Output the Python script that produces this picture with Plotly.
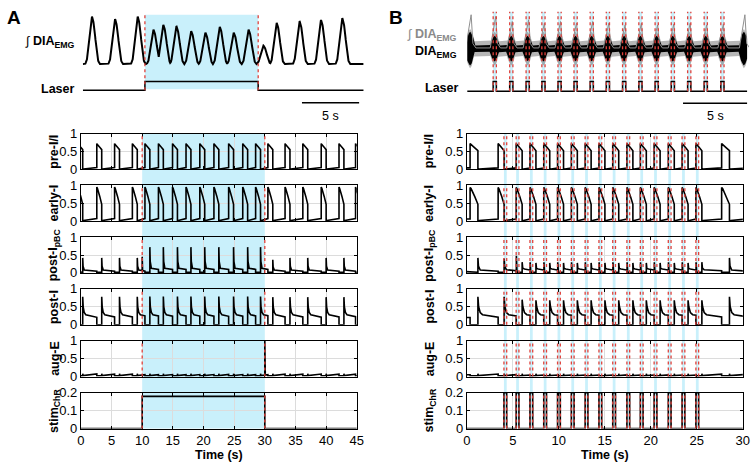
import numpy as np
import plotly.graph_objects as go

W, H = 756, 470
FONT = "Arial, 'Liberation Sans', sans-serif"
CYAN = "#c9f0fb"
RED = "#e0413b"
GRID = "#dcdcdc"

# ================= DATA =================
# ---- Panel A, top: integrated DIA EMG recording (recording time, s) ----
A_emg_t = [0.8, 2.82, 4.8, 6.18, 7.04, 8.19, 9.48, 10.72, 11.98, 13.2, 14.5, 15.8, 16.96, 18.97, 20.84, 22.7]
A_emg_v = [0.98, 0.93, 0.98, 0.71, 0.81, 0.78, 0.68, 0.65, 0.77, 0.65, 0.71, 0.38, 0.85, 0.88, 0.91, 0.95]
A_rec_laser = [5.43, 15.34]
A_rec_end = 24.57

# ---- Panel A, model (0-45 s) ----
A_on = [-0.5, 2.6, 5.5, 8.4, 10.45, 12.65, 14.95, 17.15, 19.4, 21.7, 24.1, 26.4, 28.5,
        30.5, 33.3, 36.2, 39.2, 42.1, 44.8]
A_end = [0.3, 3.4, 6.3, 9.2, 11.25, 13.45, 15.75, 17.95, 20.2, 22.5, 24.9, 27.2, 29.3,
         31.3, 34.1, 37.0, 40.0, 42.9, 45.6]
A_pbc_pk = [0.42, 0.42, 0.42, 0.42, 0.72, 0.72, 0.72, 0.72, 0.72, 0.72, 0.72, 0.72, 0.72,
            0.37, 0.42, 0.42, 0.42, 0.42, 0.42]
A_pbc_plat = [0.05, 0.05, 0.05, 0.05, 0.1, 0.1, 0.1, 0.1, 0.1, 0.1, 0.1, 0.1, 0.1,
              0.05, 0.05, 0.05, 0.05, 0.05, 0.05]
A_postI_pk = [0.78, 0.78, 0.78, 0.78, 0.79, 0.79, 0.79, 0.79, 0.79, 0.79, 0.79, 0.79, 0.79,
              0.77, 0.77, 0.77, 0.77, 0.77, 0.77]
A_pbc_extra_t = [10.0]
A_pbc_extra_v = [0.45]
A_auge_extra_t = [30.0]
A_auge_extra_v = [1.0]
A_stim_t = [0, 10, 30, 45]
A_stim_v = [0, 0.18, 0, 0]
A_laser = [10, 30]

# ---- Panel B, top: DIA EMG recording (recording time, s) ----
B_rec_pulse_on = [2.03, 3.32, 4.60, 5.83, 7.09, 8.34, 9.60, 10.86, 12.13, 13.40, 14.67, 15.93, 17.21, 18.50, 19.80]
B_rec_pulse_w = 0.25
B_rec_spont_t = [0.23, 21.6]
B_rec_int_spont = [1.0, 1.0]
B_rec_int_pulse = [0.95, 0.8, 0.85, 0.75, 0.8, 0.75, 0.8, 0.75, 0.7, 0.75, 0.7, 0.72, 0.75, 0.7, 0.72]
B_rec_end = 21.85

# ---- Panel B, model (0-30 s) ----
B_on = [0.35, 3.4, 5.36, 6.86, 8.36, 9.86, 11.36, 12.86, 14.36, 15.86, 17.4, 18.86, 20.36, 21.9, 23.4, 24.9, 27.7]
B_end = [1.2, 4.05, 6.01, 7.51, 9.01, 10.51, 12.01, 13.51, 15.01, 16.51, 18.05, 19.51, 21.01, 22.55, 24.05, 25.55, 28.55]
B_pbc_pk = [0.42, 0.4, 0.3, 0.28, 0.28, 0.28, 0.28, 0.28, 0.28, 0.28, 0.28, 0.28, 0.28, 0.28, 0.28, 0.3, 0.42]
B_pbc_plat = [0.05, 0.06, 0.08, 0.08, 0.08, 0.08, 0.08, 0.08, 0.08, 0.08, 0.08, 0.08, 0.08, 0.08, 0.08, 0.06, 0.05]
B_postI_pk = [0.78, 0.78, 0.7, 0.68, 0.68, 0.68, 0.68, 0.68, 0.68, 0.68, 0.68, 0.68, 0.68, 0.68, 0.68, 0.68, 0.78]
B_pulse_on = [4.03, 5.36, 6.86, 8.36, 9.86, 11.36, 12.86, 14.36, 15.86, 17.4, 18.86, 20.36, 21.9, 23.4, 24.9]
B_pulse_w = 0.3
B_pulse_amp = 0.2
B_pbc_pulse_v = [0.0, 0.48, 0.3, 0.3, 0.3, 0.3, 0.3, 0.3, 0.3, 0.3, 0.3, 0.3, 0.3, 0.3, 0.3]

ROW_LABELS = ["pre-I/I", "early-I", "post-I<sub>pBC</sub>", "post-I", "aug-E", "stim<sub>ChR</sub>"]

# ================= WAVEFORM BUILDERS =================
def pre_like(on, end, pk, endv, b0, b1, t0, t1):
    t, y = [t0], [b1]
    for k in range(len(on)):
        d = end[k] - on[k]
        t += [on[k], on[k], on[k] + 0.12 * d, on[k] + 0.6 * d, end[k], end[k], end[k] + 0.15]
        y += [b1, pk, pk - 0.03, (pk + endv) / 2 - 0.02, endv, 0.0, b0]
    t.append(t1); y.append(b1)
    return t, y


def post_i(on, end, pk, t0, t1):
    t, y = [t0], [0.2]
    prev = None
    for k in range(len(on)):
        lv = 0.2 if prev is None else max(0.2, 0.28 - 0.04 * (on[k] - (prev + 0.5)))
        t += [on[k], on[k], end[k], end[k], end[k] + 0.08, end[k] + 0.25, end[k] + 0.5]
        y += [lv, 0.0, 0.0, pk[k], 0.5, 0.34, 0.28]
        prev = end[k]
    t.append(t1); y.append(max(0.2, 0.28 - 0.04 * (t1 - prev - 0.5)))
    return t, y


def pbc(on, end, pk, plat, t0, t1):
    t, y = [t0], [0.04]
    pp = 0.04
    for k in range(len(on)):
        t += [on[k], on[k], end[k], end[k], end[k] + 0.06, end[k] + 0.25]
        y += [pp, 0.02, 0.02, pk[k], 0.45 * pk[k], plat[k] + 0.03]
        pp = plat[k]
    t.append(t1); y.append(pp)
    return t, y


def aug_e(on, end, t0, t1):
    t, y = [t0], [0.05]
    prev = None
    for k in range(len(on)):
        lv = 0.05 if prev is None else min(0.075, 0.025 + 0.02 * (on[k] - prev))
        t += [on[k], on[k], end[k], end[k], end[k] + 0.05]
        y += [lv, 0.02, 0.02, 0.08, 0.025]
        prev = end[k]
    t.append(t1); y.append(min(0.075, 0.025 + 0.02 * (t1 - prev)))
    return t, y


def add_spikes(t, y, ts, vs, w=0.07):
    pts = list(zip(t, y))
    for s, v in zip(ts, vs):
        if v <= 0:
            continue
        b = float(np.interp(s, t, y))
        pts += [(s - 0.001, b), (s, v), (s + w, b)]
    pts.sort(key=lambda p: p[0])
    return [p[0] for p in pts], [p[1] for p in pts]


# ================= LAYOUT GEOMETRY =================
ROW_TOP = [130.7, 184.2, 237.7, 291.2, 344.7, 398.5]
ROW_H = 37.0
A_X = (78, 358)
B_X = (469.7, 749.7)


def xd(p0, p1):
    return [p0 / W, p1 / W]


def yd(ptop, pbot):
    return [1 - pbot / H, 1 - ptop / H]


def py(p):
    return 1 - p / H


fig = go.Figure()
layout = dict(width=W, height=H, margin=dict(l=0, r=0, t=0, b=0), autosize=False,
              paper_bgcolor="white", plot_bgcolor="rgba(0,0,0,0)", showlegend=False,
              font=dict(family=FONT, size=12, color="black"))
shapes = []
annotations = []


def vline(xref, x, y0, y1, yref="paper"):
    shapes.append(dict(type="line", xref=xref, yref=yref, x0=x, x1=x, y0=y0, y1=y1,
                       line=dict(color=RED, width=1.3, dash="dot"), layer="above"))


def band(xref, x0, x1, y0, y1):
    shapes.append(dict(type="rect", xref=xref, yref="paper", x0=x0, x1=x1, y0=y0, y1=y1,
                       fillcolor=CYAN, line=dict(width=0), layer="below"))


def line_trace(x, y, xa, ya, color="black", width=1.6, shape="linear"):
    fig.add_trace(go.Scatter(x=x, y=y, xaxis=xa, yaxis=ya, mode="lines",
                             line=dict(color=color, width=width, shape=shape), hoverinfo="skip"))


# ---- model subplot axes ----
for panel, (xpx, xmax) in enumerate([(A_X, 45), (B_X, 30)]):
    for r in range(6):
        n = panel * 6 + r + 1
        xk = "xaxis" if n == 1 else f"xaxis{n}"
        yk = "yaxis" if n == 1 else f"yaxis{n}"
        xr = "x" if n == 1 else f"x{n}"
        yr = "y" if n == 1 else f"y{n}"
        last = r == 5
        layout[xk] = dict(domain=xd(*xpx), anchor=yr, range=[0, xmax], tick0=0, dtick=5,
                          showline=True, mirror="ticks", linecolor="black", linewidth=1,
                          ticks="inside", ticklen=3, tickcolor="black",
                          showgrid=True, gridcolor=GRID, gridwidth=1, zeroline=False,
                          showticklabels=last, tickfont=dict(size=13, family=FONT))
        if r < 5:
            yrng, tv, tt = [0, 1], [0, 0.5, 1], ["0", "0.5", "1"]
        else:
            yrng, tv, tt = [0, 0.2], [0, 0.1, 0.2], ["0", "0.1", "0.2"]
        layout[yk] = dict(domain=yd(ROW_TOP[r], ROW_TOP[r] + ROW_H), anchor=xr, range=yrng,
                          tickvals=tv, ticktext=tt, showline=True, mirror="ticks",
                          linecolor="black", linewidth=1, ticks="inside", ticklen=3,
                          tickcolor="black", showgrid=True, gridcolor=GRID, zeroline=False,
                          tickfont=dict(size=13, family=FONT))
        annotations.append(dict(text=f"<b>{ROW_LABELS[r]}</b>", xref="paper", yref="paper",
                                x=(51 if panel == 0 else 432) / W,
                                y=py(ROW_TOP[r] + ROW_H / 2), textangle=-90, showarrow=False,
                                font=dict(size=12.5, family=FONT), xanchor="center", yanchor="middle"))
    annotations.append(dict(text="<b>Time (s)</b>", xref="paper", yref="paper",
                            x=(xpx[0] + xpx[1]) / 2 / W, y=py(463), showarrow=False,
                            font=dict(size=12.5, family=FONT), xanchor="center", yanchor="middle"))

# ---- Panel A model traces ----
tA0, tA1 = -1.0, 46.0
t, y = pre_like(A_on, A_end, 0.72, 0.55, 0.01, 0.05, tA0, tA1)
line_trace(t, y, "x", "y")
t, y = pre_like(A_on, A_end, 0.95, 0.47, 0.02, 0.07, tA0, tA1)
line_trace(t, y, "x2", "y2")
t, y = pbc(A_on, A_end, A_pbc_pk, A_pbc_plat, tA0, tA1)
t, y = add_spikes(t, y, A_pbc_extra_t, A_pbc_extra_v)
line_trace(t, y, "x3", "y3")
t, y = post_i(A_on, A_end, A_postI_pk, tA0, tA1)
line_trace(t, y, "x4", "y4")
t, y = aug_e(A_on, A_end, tA0, tA1)
t, y = add_spikes(t, y, A_auge_extra_t, A_auge_extra_v, w=0.08)
line_trace(t, y, "x5", "y5")
line_trace(A_stim_t, A_stim_v, "x6", "y6", shape="hv")

band("x", A_laser[0], A_laser[1], py(ROW_TOP[5] + ROW_H), py(ROW_TOP[0]))
for n in range(1, 7):
    xr = "x" if n == 1 else f"x{n}"
    yr = "y" if n == 1 else f"y{n}"
    for xv in A_laser:
        vline(xr, xv, 0, 1, yref=f"{yr} domain")

# ---- Panel B model traces ----
tB0, tB1 = -0.5, 30.5
t, y = pre_like(B_on, B_end, 0.72, 0.52, 0.01, 0.04, tB0, tB1)
line_trace(t, y, "x7", "y7")
t, y = pre_like(B_on, B_end, 0.94, 0.47, 0.02, 0.06, tB0, tB1)
line_trace(t, y, "x8", "y8")
t, y = pbc(B_on, B_end, B_pbc_pk, B_pbc_plat, tB0, tB1)
t, y = add_spikes(t, y, [p + 0.02 for p in B_pulse_on], B_pbc_pulse_v)
line_trace(t, y, "x9", "y9")
t, y = post_i(B_on, B_end, B_postI_pk, tB0, tB1)
line_trace(t, y, "x10", "y10")
t, y = aug_e(B_on, B_end, tB0, tB1)
line_trace(t, y, "x11", "y11")
st, sv = [0.0], [0.0]
for p in B_pulse_on:
    st += [p, p, p + B_pulse_w, p + B_pulse_w]
    sv += [0.0, B_pulse_amp, B_pulse_amp, 0.0]
st.append(30.0); sv.append(0.0)
line_trace(st, sv, "x12", "y12")

for p in B_pulse_on:
    band("x7", p, p + B_pulse_w, py(ROW_TOP[5] + ROW_H), py(ROW_TOP[0]))
    for n in range(7, 13):
        for xv in (p, p + B_pulse_w):
            vline(f"x{n}", xv, 0, 1, yref=f"y{n} domain")

# ---- top recordings: axes ----
hid = dict(visible=False, showgrid=False, zeroline=False)
layout["xaxis13"] = dict(hid, domain=xd(80, 365), range=[0, A_rec_end], anchor="y13")
layout["yaxis13"] = dict(hid, domain=yd(3, 68), range=[-0.18, 1.12], anchor="x13")
layout["yaxis14"] = dict(hid, domain=yd(70, 105), range=[-2.11, 1.78], anchor="x13")
layout["xaxis15"] = dict(hid, domain=xd(470, 756), range=[0, 22.0], anchor="y15")
layout["yaxis15"] = dict(hid, domain=yd(3, 72), range=[-0.829, 1.143], anchor="x15")
layout["yaxis16"] = dict(hid, domain=yd(70, 105), range=[-1.8, 1.7], anchor="x15")

# ---- Panel A top: integrated EMG ----
tpl_x = [-0.6, -0.45, -0.3, -0.15, -0.05, 0.0, 0.08, 0.2, 0.35, 0.5, 0.65]
tpl_y = [0.0, 0.08, 0.4, 0.82, 0.96, 1.0, 0.95, 0.78, 0.4, 0.1, 0.0]
tg = np.arange(0, A_rec_end + 0.001, 0.02)
ya = np.zeros_like(tg)
for tk, vk in zip(A_emg_t, A_emg_v):
    ya = np.maximum(ya, vk * np.interp(tg - tk, tpl_x, tpl_y, left=0, right=0))
line_trace(tg, ya, "x13", "y13", width=2.0)
line_trace([0, A_rec_laser[0], A_rec_laser[1], A_rec_end], [0, 1, 0, 0], "x13", "y14", width=1.5, shape="hv")
line_trace([A_rec_end - 0.4 - 5, A_rec_end - 0.4], [-1.44, -1.44], "x13", "y14", width=1.5)
annotations.append(dict(text="5 s", xref="x13", yref="paper", x=A_rec_end - 0.4 - 2.5, y=py(113),
                        xanchor="center", yanchor="middle",
                        showarrow=False, font=dict(size=12.5, family=FONT)))
band("x13", A_rec_laser[0], A_rec_laser[1], py(85), py(8))
for xv in A_rec_laser:
    vline("x13", xv, py(86), py(8))

# ---- Panel B top: raw + integrated EMG ----
tb = np.arange(0, B_rec_end + 0.001, 0.01)
env_o = np.full_like(tb, 0.22)
env_i = np.full_like(tb, 0.09)
ex = [-0.4, -0.2, 0.0, 0.2, 0.4]
ey = [0.0, 0.8, 1.0, 0.8, 0.0]
for c in B_rec_spont_t:
    env_o = np.maximum(env_o, 0.58 * np.interp(tb - c, ex, ey, left=0, right=0))
    env_i = np.maximum(env_i, 0.5 * np.interp(tb - c, ex, ey, left=0, right=0))
for p in B_rec_pulse_on:
    c = p + 0.12
    env_o = np.maximum(env_o, 0.5 * np.interp(tb - c, ex, ey, left=0, right=0))
    env_i = np.maximum(env_i, 0.38 * np.interp(tb - c, ex, ey, left=0, right=0))
# integrated (grey)
gt, gy = [], []
bursts = sorted([(c, v) for c, v in zip(B_rec_spont_t, B_rec_int_spont)] +
                [(p + 0.12, v) for p, v in zip(B_rec_pulse_on, B_rec_int_pulse)])
for c, v in bursts:
    gt += [c - 0.35, c + 0.08, c + 0.22, c + 0.45]
    gy += [0.02, v, 0.15, 0.02]
fig.add_trace(go.Scatter(x=np.concatenate([tb, tb[::-1]]), y=np.concatenate([env_o, -env_o[::-1]]),
                         xaxis="x15", yaxis="y15", mode="lines", fill="toself",
                         fillcolor="rgba(110,110,110,0.5)", line=dict(width=0), hoverinfo="skip"))
fig.add_trace(go.Scatter(x=np.concatenate([tb, tb[::-1]]), y=np.concatenate([env_i, -env_i[::-1]]),
                         xaxis="x15", yaxis="y15", mode="lines", fill="toself",
                         fillcolor="black", line=dict(width=0), hoverinfo="skip"))
line_trace(gt, gy, "x15", "y15", color="#8f8f8f", width=1.0)
lt, lv = [0.0], [0.0]
for p in B_rec_pulse_on:
    lt += [p, p, p + B_rec_pulse_w, p + B_rec_pulse_w]
    lv += [0, 1, 1, 0]
lt.append(B_rec_end); lv.append(0)
line_trace(lt, lv, "x15", "y16", width=1.5)
line_trace([B_rec_end - 5.0, B_rec_end], [-1.23, -1.23], "x15", "y16", width=1.5)
annotations.append(dict(text="5 s", xref="x15", yref="paper", x=B_rec_end - 2.5, y=py(113),
                        xanchor="center", yanchor="middle",
                        showarrow=False, font=dict(size=12.5, family=FONT)))
for p in B_rec_pulse_on:
    band("x15", p, p + B_rec_pulse_w, py(87), py(5))
    for xv in (p, p + B_rec_pulse_w):
        vline("x15", xv, py(87), py(5))

# ---- text labels ----
def lab(text, xpx, ypx, size=12.5, color="black", anchor="right"):
    annotations.append(dict(text=text, xref="paper", yref="paper", x=xpx / W, y=py(ypx),
                            showarrow=False, xanchor=anchor, yanchor="middle",
                            font=dict(size=size, family=FONT, color=color)))

lab("<b>A</b>", 1, 11, size=19, anchor="left")
lab("<b>B</b>", 389, 11, size=19, anchor="left")
lab("∫ <b>DIA<sub>EMG</sub></b>", 74, 36)
lab("<b>Laser</b>", 73, 85)
lab("∫ <b>DIA<sub>EMG</sub></b>", 462, 29, color="#8a8a8a")
lab("<b>DIA<sub>EMG</sub></b>", 462, 46)
lab("<b>Laser</b>", 463, 84)

layout["shapes"] = shapes
layout["annotations"] = annotations
fig.update_layout(**layout)
fig.write_html("out.html", config={"displayModeBar": False, "responsive": False},
               post_script="document.body.style.margin='0';document.body.style.padding='0';"
                           "document.body.style.overflow='hidden';")
